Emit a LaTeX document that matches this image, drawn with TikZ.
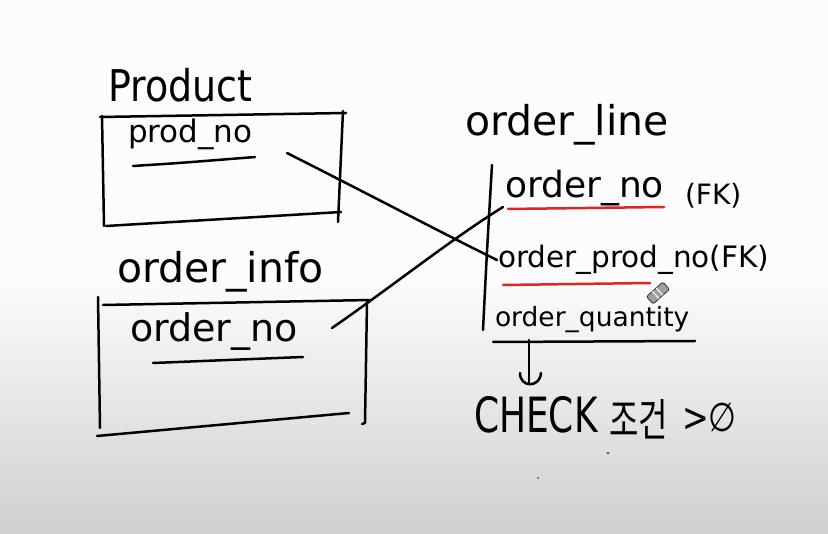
\documentclass[tikz,border=0pt]{standalone}
\usepackage{fontspec}
\setmainfont{DejaVu Sans}
\newfontfamily\krfont{Noto Sans CJK KR}
\definecolor{bgtop}{HTML}{FCFCFE}
\definecolor{bgbot}{HTML}{CFCFD1}
\definecolor{inkred}{HTML}{E0261E}
\begin{document}
\begin{tikzpicture}[x=1pt,y=-1pt,
  pen/.style={line width=2.5pt, line cap=round, line join=round, black},
  redpen/.style={line width=2.5pt, line cap=round, inkred},
  lbl/.style={anchor=base west, inner sep=0pt, outer sep=0pt, text=black}]
\useasboundingbox (0,0) rectangle (828,534);
\fill[bgtop] (0,0) rectangle (828,281);
\shade[top color=bgtop, bottom color=bgbot] (0,280) rectangle (828,534);

% ---------- Product ----------
\node[lbl, font=\fontsize{38}{40}\selectfont] (product) at (108,102) {\scalebox{1}[1.15]{Product}};
\draw[pen] (100,117) -- (346,113);
\draw[pen] (102,116) -- (104,226);
\draw[pen] (343,111) -- (338,222);
\draw[pen] (106,226) -- (341,212);
\node[lbl, font=\fontsize{31}{33}\selectfont] (prodno) at (128,143) {prod\_no};
\draw[pen] (133,166) .. controls (180,163) .. (255,157);

% ---------- order_info ----------
\node[lbl, font=\fontsize{41}{43}\selectfont] (orderinfo) at (117,283) {order\_info};
\draw[pen] (103,305) -- (370,300);
\draw[pen] (98,297) -- (100,428);
\draw[pen] (367,302) -- (365,423) -- (362,424);
\draw[pen] (97,436) -- (349,413);
\node[lbl, font=\fontsize{38}{40}\selectfont] (infono) at (130,342) {order\_no};
\draw[pen] (153,363) -- (303,357);

% ---------- order_line ----------
\node[lbl, font=\fontsize{41}{43}\selectfont] (orderline) at (465,136) {order\_line};
\draw[pen] (492,165) .. controls (487,250) .. (483,330);
\node[lbl, font=\fontsize{36}{38}\selectfont] (lineno) at (505,198) {order\_no};
\node[lbl, font=\fontsize{28}{30}\selectfont] (fk1) at (685,205) {(FK)};
\draw[redpen] (508,209) -- (664,207);
\node[lbl, font=\fontsize{29.5}{31}\selectfont] (prodfk) at (498,268) {order\_prod\_no(FK)};
\draw[redpen] (503,285) -- (650,283);
\node[lbl, font=\fontsize{26.5}{28}\selectfont] (qty) at (495,327) {order\_quantity};
\draw[pen] (493,342) -- (695,341);

% pen cursor
\begin{scope}[shift={(658,293)}, rotate=-48]
  \fill[gray!75, draw=gray!40!black, line width=0.8pt, rounded corners=2pt] (-5,-11) rectangle (5,11);
  \draw[white, line width=1pt] (-5,-2) -- (5,-2) (-5,3) -- (5,3);
\end{scope}

% ---------- relationships ----------
\coordinate (pnend) at (287,153);
\coordinate (opfk) at (497,260);
\coordinate (inend) at (332,328);
\coordinate (onfk) at (503,207);
\draw[pen] (pnend) .. controls (380,200) and (440,232) .. (opfk);
\draw[pen] (inend) .. controls (390,288) and (450,240) .. (onfk);

% ---------- check ----------
\node[lbl, font=\fontsize{36}{38}\selectfont] (check) at (474,433) {\scalebox{1}[1.35]{CHECK}};
\node[lbl, font=\krfont\fontsize{32}{34}\selectfont] (cond) at (609,437) {\scalebox{1}[1.4]{조건}};
\node[lbl, font=\fontsize{32}{34}\selectfont] (gt) at (682,432) {\scalebox{1}[1.25]{>∅}};
\coordinate (qtyarrow) at (529,340);
\coordinate (chkarrow) at (529,383);
\draw[pen] (qtyarrow) -- (chkarrow);
\draw[pen] (520,373) .. controls (520,388) and (540,388) .. (541,373);

% specks
\fill[black!70] (608,453) circle (1.3pt);
\fill[black!60] (538,478) circle (1.2pt);
\end{tikzpicture}
\end{document}
